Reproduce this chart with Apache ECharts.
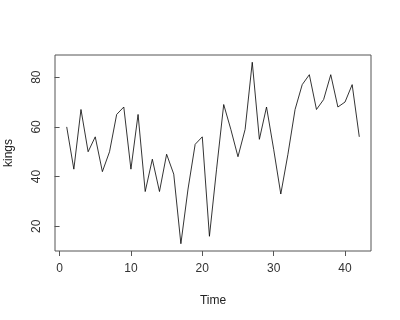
<!DOCTYPE html>
<html><head><meta charset="utf-8">
<script src="https://cdn.jsdelivr.net/npm/echarts@6/dist/echarts.min.js"></script>
<style>html,body{margin:0;padding:0;background:#fff}#c{width:400px;height:320px}</style>
</head><body><div id="c"></div>
<script>
const kings = [60,43,67,50,56,42,50,65,68,43,65,34,47,34,49,41,13,35,53,56,16,43,69,59,48,59,86,55,68,51,33,49,67,77,81,67,71,81,68,70,77,56];
const xTicks = [0,10,20,30,40];
const yTicks = [20,40,60,80];
const points = kings.map((v,i)=>[i+1,v]);
const gray = '#555';
const chart = echarts.init(document.getElementById('c'));
chart.setOption({
  animation:false,
  grid:{left:55,right:29,top:55,bottom:69,containLabel:false,outerBoundsMode:'none',show:true,borderColor:gray,borderWidth:1,backgroundColor:'transparent'},
  xAxis:{type:'value',min:-0.64,max:43.64,name:'Time',nameLocation:'middle',nameGap:44,
    nameTextStyle:{color:'#222',fontSize:12,fontFamily:'Liberation Sans'},
    axisLine:{show:false},splitLine:{show:false},
    axisTick:{show:true,length:5,lineStyle:{color:gray},customValues:xTicks},
    axisLabel:{color:'#333',fontSize:12,fontFamily:'Liberation Sans',margin:12,customValues:xTicks}},
  yAxis:{type:'value',min:10.08,max:88.92,name:'kings',nameLocation:'middle',nameGap:40,nameRotate:90,
    nameTextStyle:{color:'#222',fontSize:12,fontFamily:'Liberation Sans'},
    axisLine:{show:false},splitLine:{show:false},
    axisTick:{show:true,length:5,lineStyle:{color:gray},customValues:yTicks},
    axisLabel:{color:'#333',fontSize:12,fontFamily:'Liberation Sans',rotate:90,margin:12,customValues:yTicks}},
  series:[{type:'line',data:points,showSymbol:false,lineStyle:{color:'#000',width:0.8}}]
});
</script></body></html>
